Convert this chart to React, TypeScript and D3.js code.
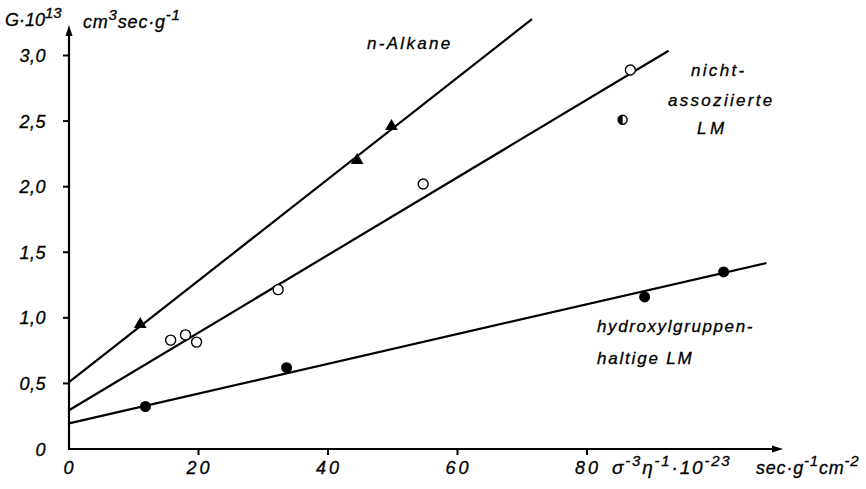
import React from "react";
import * as d3 from "d3";

// Tick values and their printed labels (German decimal comma)
const xTicks = [0, 20, 40, 60, 80];
const xTickLabels = ["0", "20", "40", "60", "80"];
const yTicks = [0, 0.5, 1.0, 1.5, 2.0, 2.5, 3.0];
const yTickLabels = ["0", "0,5", "1,0", "1,5", "2,0", "2,5", "3,0"];

// n-Alkane (filled triangles)
const alkaneX = [11.0, 44.5, 49.8];
const alkaneY = [0.95, 2.2, 2.46];

// non-associated liquids (open circles)
const nonAssocX = [15.7, 18.0, 19.7, 32.3, 54.7, 86.7];
const nonAssocY = [0.83, 0.87, 0.815, 1.215, 2.02, 2.89];

// half-filled point
const halfX = [85.5];
const halfY = [2.51];

// hydroxyl-group containing liquids (filled circles)
const hydroxylX = [11.8, 33.6, 88.9, 101.1];
const hydroxylY = [0.324, 0.62, 1.159, 1.35];

// regression lines: [x0, y0, x1, y1]
const alkaneLine = [0, 0.51, 71.5, 3.277];
const nonAssocLine = [0, 0.295, 92.6, 3.036];
const hydroxylLine = [0, 0.195, 107.7, 1.418];

const W = 866;
const H = 489;
const FONT = "'Liberation Sans', Arial, sans-serif";

export default function App() {
  const x = d3.scaleLinear().domain([0, 80]).range([69, 587]);
  const y = d3.scaleLinear().domain([0, 3]).range([449, 55.5]);

  const line = d3
    .line<[number, number]>()
    .x((d) => x(d[0]))
    .y((d) => y(d[1]));

  const seg = (l: number[]) =>
    line([
      [l[0], l[1]],
      [l[2], l[3]],
    ]) as string;

  const tri = d3.symbol().type(d3.symbolTriangle).size(70)() as string;

  const x0 = x(0);
  const y0 = y(0);
  const xEnd = 783;
  const yTop = 25;

  // heavy italic lettering
  const textStyle: React.CSSProperties = {
    fontFamily: FONT,
    fontStyle: "italic",
    fill: "#000",
    stroke: "#000",
    strokeWidth: 0.3,
  };

  return (
    <svg
      width={W}
      height={H}
      style={{ position: "absolute", left: 0, top: 0, background: "#fff" }}
    >
      <rect width={W} height={H} fill="#fff" />

      {/* axes */}
      <g stroke="#000" strokeWidth={2.2} fill="none">
        <line x1={x0} y1={y0 + 1} x2={x0} y2={yTop + 6} />
        <line x1={x0 - 1} y1={y0} x2={xEnd - 6} y2={y0} />
      </g>
      <path
        d={`M${x0},${yTop} L${x0 - 3.5},${yTop + 11} L${x0 + 3.5},${yTop + 11} Z`}
        fill="#000"
      />
      <path
        d={`M${xEnd},${y0} L${xEnd - 11},${y0 - 3.5} L${xEnd - 11},${y0 + 3.5} Z`}
        fill="#000"
      />

      {/* y ticks */}
      {yTicks.map((t, i) => (
        <g key={"y" + i}>
          {t > 0 && (
            <line
              x1={x0 - 6}
              x2={x0}
              y1={y(t)}
              y2={y(t)}
              stroke="#000"
              strokeWidth={2}
            />
          )}
          <text
            x={46}
            y={y(t) + 6.5}
            textAnchor="end"
            fontSize={18}
            letterSpacing={0.5}
            style={textStyle}
          >
            {yTickLabels[i]}
          </text>
        </g>
      ))}

      {/* x ticks */}
      {xTicks.map((t, i) => (
        <g key={"x" + i}>
          {t > 0 && (
            <line
              x1={x(t)}
              x2={x(t)}
              y1={y0}
              y2={y0 + 6}
              stroke="#000"
              strokeWidth={2}
            />
          )}
          <text
            x={x(t) + 1}
            y={y0 + 25}
            textAnchor="middle"
            fontSize={18}
            letterSpacing={3}
            style={textStyle}
          >
            {xTickLabels[i]}
          </text>
        </g>
      ))}

      {/* axis titles */}
      <text x={5} y={26} fontSize={18} style={textStyle}>
        G·10
        <tspan dy={-8} fontSize={15}>
          13
        </tspan>
      </text>
      <text x={83} y={28} fontSize={18} letterSpacing={0.8} style={textStyle}>
        cm
        <tspan dy={-8} fontSize={15}>
          3
        </tspan>
        <tspan dy={8}>sec·g</tspan>
        <tspan dy={-8} fontSize={15}>
          -1
        </tspan>
      </text>
      <text x={612} y={y0 + 25} fontSize={19} letterSpacing={1.8} style={textStyle}>
        σ
        <tspan dy={-8} fontSize={15}>
          -3
        </tspan>
        <tspan dy={8}>η</tspan>
        <tspan dy={-8} fontSize={15}>
          -1
        </tspan>
        <tspan dy={8}>·10</tspan>
        <tspan dy={-8} fontSize={15}>
          -23
        </tspan>
      </text>
      <text x={756} y={y0 + 25} fontSize={18} letterSpacing={0.8} style={textStyle}>
        sec·g
        <tspan dy={-8} fontSize={15}>
          -1
        </tspan>
        <tspan dy={8}>cm</tspan>
        <tspan dy={-8} fontSize={15}>
          -2
        </tspan>
      </text>

      {/* fitted lines */}
      <g stroke="#000" strokeWidth={2.2} fill="none">
        <path d={seg(alkaneLine)} />
        <path d={seg(nonAssocLine)} />
        <path d={seg(hydroxylLine)} />
      </g>

      {/* n-Alkane triangles */}
      {alkaneX.map((v, i) => (
        <path
          key={"a" + i}
          d={tri}
          transform={`translate(${x(v)},${y(alkaneY[i])})`}
          fill="#000"
        />
      ))}

      {/* open circles */}
      {nonAssocX.map((v, i) => (
        <circle
          key={"n" + i}
          cx={x(v)}
          cy={y(nonAssocY[i])}
          r={5}
          fill="#fff"
          stroke="#000"
          strokeWidth={1.4}
        />
      ))}

      {/* half-filled circle */}
      {halfX.map((v, i) => {
        const cx = x(v);
        const cy = y(halfY[i]);
        const r = 4.5;
        return (
          <g key={"h" + i}>
            <circle cx={cx} cy={cy} r={r} fill="#fff" stroke="#000" strokeWidth={1.4} />
            <path
              d={`M${cx},${cy - r} A${r},${r} 0 0 0 ${cx},${cy + r} Z`}
              fill="#000"
            />
          </g>
        );
      })}

      {/* filled circles */}
      {hydroxylX.map((v, i) => (
        <circle
          key={"o" + i}
          cx={x(v)}
          cy={y(hydroxylY[i])}
          r={5.5}
          fill="#000"
        />
      ))}

      {/* series labels */}
      <text x={367} y={49} fontSize={17} letterSpacing={2.3} style={textStyle}>
        n-Alkane
      </text>
      <text x={691} y={76} fontSize={17} letterSpacing={2.3} style={textStyle}>
        nicht-
      </text>
      <text x={668} y={106} fontSize={17} letterSpacing={2.3} style={textStyle}>
        assoziierte
      </text>
      <text x={697} y={134} fontSize={17} letterSpacing={3.5} style={textStyle}>
        LM
      </text>
      <text x={597} y={332} fontSize={17} letterSpacing={1.6} style={textStyle}>
        hydroxylgruppen-
      </text>
      <text x={597} y={364} fontSize={17} letterSpacing={1.8} style={textStyle}>
        haltige{"  "}LM
      </text>
    </svg>
  );
}
